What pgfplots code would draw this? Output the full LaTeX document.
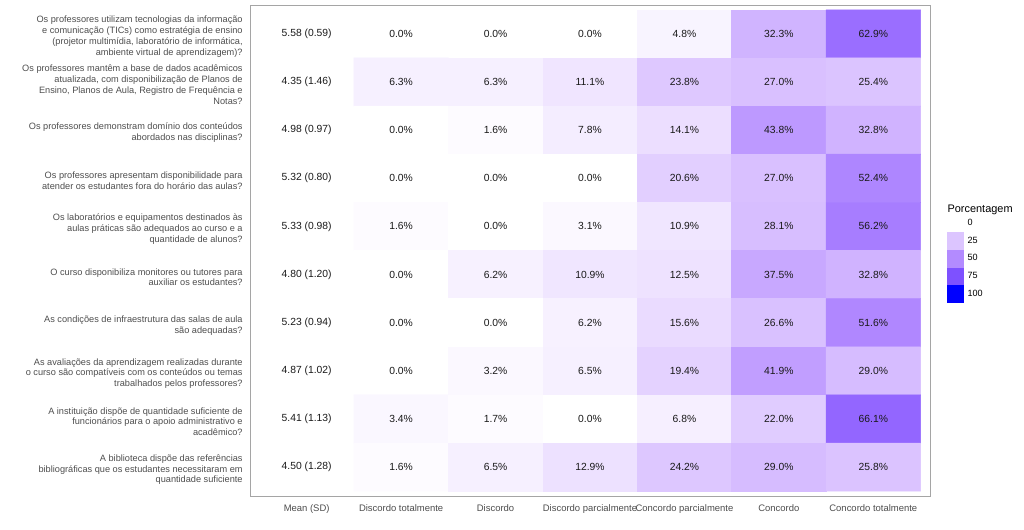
\documentclass[border=0pt]{standalone}
\usepackage{fontspec}
\setmainfont{Liberation Sans}
\usepackage{pgfplots}
\usepackage{pgfplotstable}
\pgfplotsset{compat=1.18}
\usetikzlibrary{calc}
\definecolor{tickgray}{RGB}{77,77,77}
\definecolor{panelgray}{RGB}{165,165,165}
\definecolor{c0}{RGB}{255,255,255}
\definecolor{c25}{RGB}{220,197,255}
\definecolor{c50}{RGB}{179,139,255}
\definecolor{c75}{RGB}{126,81,255}
\definecolor{c100}{RGB}{0,0,255}

\pgfplotstableread{
x y v
1 1 0.0
2 1 0.0
3 1 0.0
4 1 4.8
5 1 32.3
6 1 62.9
1 2 6.3
2 2 6.3
3 2 11.1
4 2 23.8
5 2 27.0
6 2 25.4
1 3 0.0
2 3 1.6
3 3 7.8
4 3 14.1
5 3 43.8
6 3 32.8
1 4 0.0
2 4 0.0
3 4 0.0
4 4 20.6
5 4 27.0
6 4 52.4
1 5 1.6
2 5 0.0
3 5 3.1
4 5 10.9
5 5 28.1
6 5 56.2
1 6 0.0
2 6 6.2
3 6 10.9
4 6 12.5
5 6 37.5
6 6 32.8
1 7 0.0
2 7 0.0
3 7 6.2
4 7 15.6
5 7 26.6
6 7 51.6
1 8 0.0
2 8 3.2
3 8 6.5
4 8 19.4
5 8 41.9
6 8 29.0
1 9 3.4
2 9 1.7
3 9 0.0
4 9 6.8
5 9 22.0
6 9 66.1
1 10 1.6
2 10 6.5
3 10 12.9
4 10 24.2
5 10 29.0
6 10 25.8
}\heat

\pgfplotstableread[col sep=comma]{
x,y,m
0,1,5.58 (0.59)
0,2,4.35 (1.46)
0,3,4.98 (0.97)
0,4,5.32 (0.80)
0,5,5.33 (0.98)
0,6,4.80 (1.20)
0,7,5.23 (0.94)
0,8,4.87 (1.02)
0,9,5.41 (1.13)
0,10,4.50 (1.28)
}\means

\pgfplotsset{keyimg/.style={legend image code/.code={\fill[#1] (0pt,-6.4pt) rectangle (12pt,6.4pt);}}}

\begin{document}
\begin{tikzpicture}
\begin{axis}[
  name=ax,
  scale only axis, width=510pt, height=368.25pt,
  xmin=-0.6, xmax=6.6, ymin=0.4, ymax=10.6, y dir=reverse,
  axis line style={panelgray, line width=0.6pt},
  major tick length=0pt,
  xtick={0,...,6},
  xticklabels={Mean (SD),Discordo totalmente,Discordo,Discordo parcialmente,Concordo parcialmente,Concordo,Concordo totalmente},
  ytick={1,...,10},
  yticklabels={
    {Os professores utilizam tecnologias da informação\\e comunicação (TICs) como estratégia de ensino\\(projetor multimídia, laboratório de informática,\\ambiente virtual de aprendizagem)?},
    {Os professores mantêm a base de dados acadêmicos\\atualizada, com disponibilização de Planos de\\Ensino, Planos de Aula, Registro de Frequência e\\Notas?},
    {Os professores demonstram domínio dos conteúdos\\abordados nas disciplinas?},
    {Os professores apresentam disponibilidade para\\atender os estudantes fora do horário das aulas?},
    {Os laboratórios e equipamentos destinados às\\aulas práticas são adequados ao curso e a\\quantidade de alunos?},
    {O curso disponibiliza monitores ou tutores para\\auxiliar os estudantes?},
    {As condições de infraestrutura das salas de aula\\são adequadas?},
    {As avaliações da aprendizagem realizadas durante\\o curso são compatíveis com os conteúdos ou temas\\trabalhados pelos professores?},
    {A instituição dispõe de quantidade suficiente de\\funcionários para o apoio administrativo e\\acadêmico?},
    {A biblioteca dispõe das referências\\bibliográficas que os estudantes necessitaram em\\quantidade suficiente}
  },
  xticklabel style={font=\fontsize{7.1}{8}\selectfont, text=tickgray, yshift=-3pt},
  yticklabel style={font=\fontsize{6.9}{8.1}\selectfont, text=tickgray, align=right, xshift=-2pt, yshift=-2pt},
  colormap={labwb}{rgb255=(255,255,255) rgb255=(238,226,255) rgb255=(220,197,255) rgb255=(200,168,255) rgb255=(179,139,255) rgb255=(155,111,255) rgb255=(126,81,255) rgb255=(89,50,255) rgb255=(0,0,255)},
  point meta min=0, point meta max=100,
  legend style={at={(axis description cs:1.0246,0.5733)}, anchor=north west, draw=none, fill=none,
    inner sep=0pt, row sep=0pt, font=\fontsize{6.8}{7.5}\selectfont, text=black,
    nodes={inner xsep=3pt, inner ysep=0pt}},
  legend cell align=left,
]
\addplot[matrix plot*, mesh/cols=6, point meta=explicit, forget plot] table[x=x, y=y, meta=v] {\heat};
\addplot[draw=none, mark=none, forget plot, point meta=explicit,
  nodes near coords={\pgfmathprintnumber[fixed,fixed zerofill,precision=1,assume math mode=true]{\pgfplotspointmeta}\%},
  every node near coord/.append style={anchor=center, font=\fontsize{7.75}{9}\selectfont, text=black!90}]
  table[x=x, y=y, meta=v] {\heat};
\addplot[draw=none, mark=none, forget plot, point meta=explicit symbolic, nodes near coords,
  every node near coord/.append style={anchor=center, font=\fontsize{7.75}{9}\selectfont, text=black!90}]
  table[x=x, y=y, meta=m] {\means};
\addlegendimage{keyimg=c0}\addlegendentry{0}
\addlegendimage{keyimg=c25}\addlegendentry{25}
\addlegendimage{keyimg=c50}\addlegendentry{50}
\addlegendimage{keyimg=c75}\addlegendentry{75}
\addlegendimage{keyimg=c100}\addlegendentry{100}
\end{axis}
\node[anchor=base west, inner sep=0pt, font=\fontsize{8.2}{9}\selectfont] at ($(ax.north east)+(13pt,-155.6pt)$) {Porcentagem};
\path ($(ax.south west)+(-187.5pt,-24.75pt)$) rectangle ($(ax.north east)+(70.5pt,3.75pt)$);
\end{tikzpicture}
\end{document}
